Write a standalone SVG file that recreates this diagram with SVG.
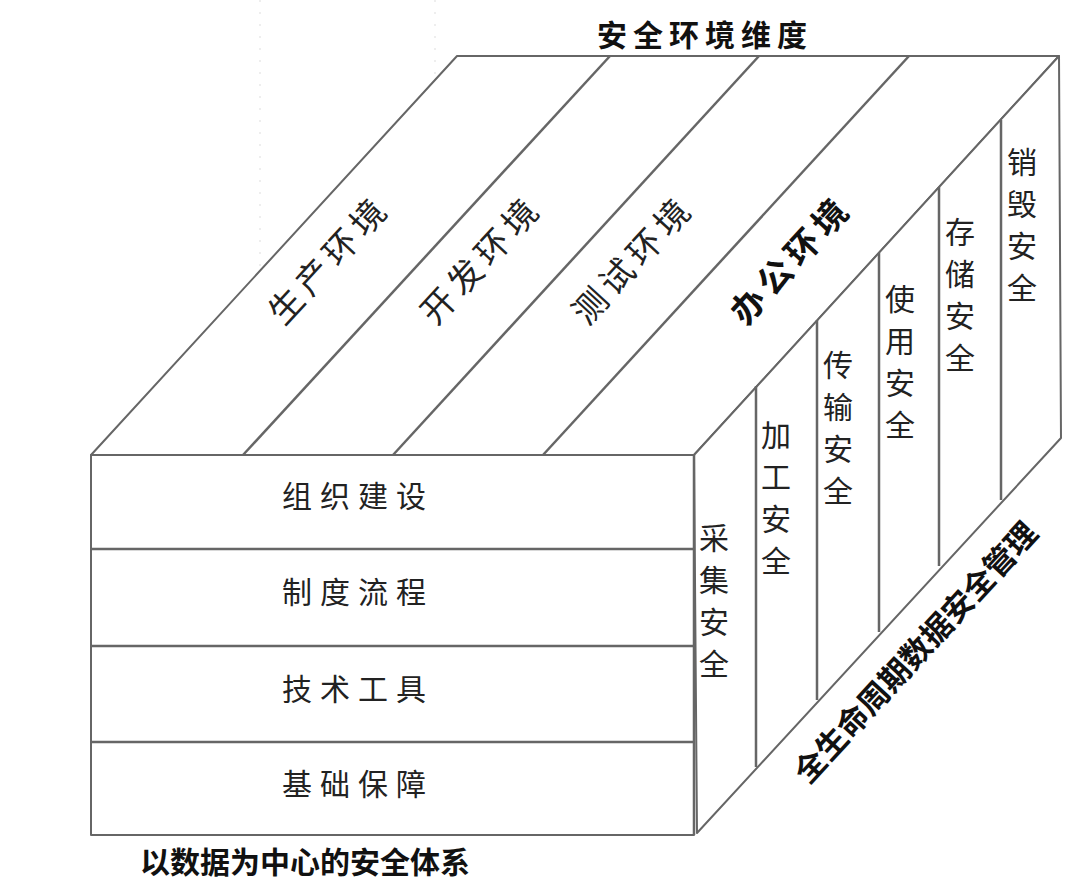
<svg xmlns="http://www.w3.org/2000/svg" width="1079" height="888" viewBox="0 0 1079 888">
<style>
.e{fill:#fff;stroke:#666;stroke-width:2;stroke-linejoin:round}
.d{stroke:#666;stroke-width:2.5;fill:none}
.t{font-family:"Noto Sans CJK SC",sans-serif;fill:#222}
.f{font-size:30px;letter-spacing:8px;text-anchor:middle}
.v{font-size:30px;text-anchor:middle}
.b{font-weight:700;fill:#111}
</style>
<rect width="1079" height="888" fill="#fff"/>
<line x1="260" y1="0" x2="260" y2="455" stroke="#ddd" stroke-dasharray="2 10"/>
<line x1="435" y1="0" x2="435" y2="455" stroke="#ddd" stroke-dasharray="2 10"/>
<g id="top">
<polygon class="e" points="91,455 457,56 1059,56 694,455"/>
</g>
<g id="right">
<polygon class="e" points="694,455 1059,56 1061,438 697,833"/>
</g>
<g id="front">
<rect class="e" x="91" y="455" width="603" height="380"/>
</g>
<g id="connectors">
<line class="d" x1="243" y1="455" x2="610" y2="56"/>
<line class="d" x1="393" y1="455" x2="759" y2="56"/>
<line class="d" x1="543" y1="455" x2="909" y2="56"/>
<line class="d" x1="91" y1="549" x2="694" y2="549"/>
<line class="d" x1="91" y1="646" x2="694" y2="646"/>
<line class="d" x1="91" y1="742" x2="694" y2="742"/>
<line class="d" x1="694" y1="455" x2="694" y2="835"/>
<line class="d" x1="756" y1="386" x2="756" y2="767"/>
<line class="d" x1="817" y1="320" x2="817" y2="700"/>
<line class="d" x1="879" y1="253" x2="879" y2="632"/>
<line class="d" x1="939" y1="187" x2="939" y2="566"/>
<line class="d" x1="1001" y1="120" x2="1001" y2="500"/>
</g>
<g id="labels">
<text class="t b" x="705" y="46" font-size="30" letter-spacing="6" text-anchor="middle">安全环境维度</text>
<text class="t" font-size="34" letter-spacing="6" text-anchor="middle" transform="translate(338,268) rotate(-47.3)">生产环境</text>
<text class="t" font-size="34" letter-spacing="6" text-anchor="middle" transform="translate(490,268) rotate(-47.3)">开发环境</text>
<text class="t" font-size="34" letter-spacing="6" text-anchor="middle" transform="translate(642,268) rotate(-47.3)">测试环境</text>
<text class="t b" font-size="34" letter-spacing="6" text-anchor="middle" transform="translate(800,268) rotate(-47.3)">办公环境</text>
<text class="t f" x="358" y="507">组织建设</text>
<text class="t f" x="358" y="603">制度流程</text>
<text class="t f" x="358" y="700">技术工具</text>
<text class="t f" x="358" y="795">基础保障</text>
<text class="t v" x="714" y="549"><tspan x="714">采</tspan><tspan x="714" dy="42">集</tspan><tspan x="714" dy="42">安</tspan><tspan x="714" dy="42">全</tspan></text>
<text class="t v" x="776" y="446"><tspan x="776">加</tspan><tspan x="776" dy="42">工</tspan><tspan x="776" dy="42">安</tspan><tspan x="776" dy="42">全</tspan></text>
<text class="t v" x="838" y="376"><tspan x="838">传</tspan><tspan x="838" dy="42">输</tspan><tspan x="838" dy="42">安</tspan><tspan x="838" dy="42">全</tspan></text>
<text class="t v" x="900" y="310"><tspan x="900">使</tspan><tspan x="900" dy="42">用</tspan><tspan x="900" dy="42">安</tspan><tspan x="900" dy="42">全</tspan></text>
<text class="t v" x="960" y="243"><tspan x="960">存</tspan><tspan x="960" dy="42">储</tspan><tspan x="960" dy="42">安</tspan><tspan x="960" dy="42">全</tspan></text>
<text class="t v" x="1022" y="173"><tspan x="1022">销</tspan><tspan x="1022" dy="42">毁</tspan><tspan x="1022" dy="42">安</tspan><tspan x="1022" dy="42">全</tspan></text>
<text class="t b" font-size="31" font-weight="900" text-anchor="middle" transform="translate(924,660) rotate(-47.3)">全生命周期数据安全管理</text>
<text class="t b" x="140" y="873" font-size="30" font-weight="900">以数据为中心的安全体系</text>
</g>
</svg>
